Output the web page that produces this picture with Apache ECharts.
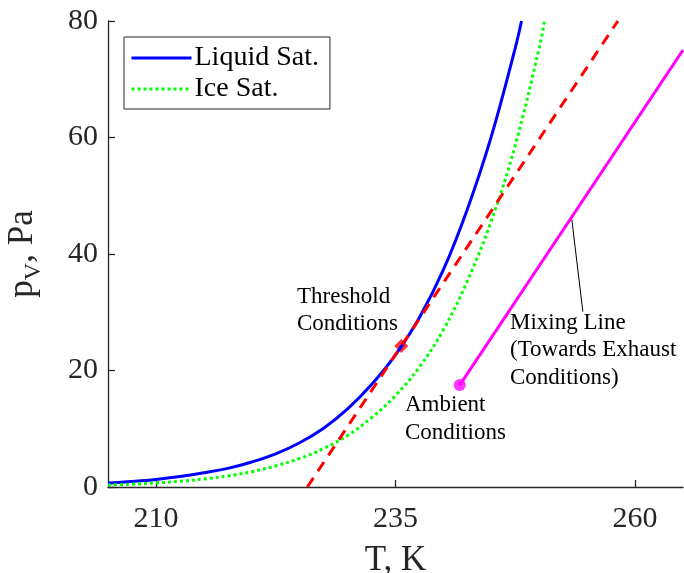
<!DOCTYPE html>
<html>
<head>
<meta charset="utf-8">
<script src="https://cdn.jsdelivr.net/npm/echarts@6/dist/echarts.min.js"></script>
<style>
  html, body { margin: 0; padding: 0; background: #fff; }
  #chart { width: 684px; height: 573px; }
</style>
</head>
<body>
<div id="chart"></div>
<script>
// saturation curves (T in K, p in Pa)
const liquidT = [205, 207.5, 210, 212.5, 215, 217.5, 220, 222.5, 225, 227.5, 230, 232.5, 235, 237.5, 240, 242.5, 245, 247.5, 248.15]
const liquidP = [0.68, 0.95, 1.3, 1.8, 2.43, 3.2, 4.3, 5.7, 7.6, 10.1, 13.4, 17.6, 22.7, 29.1, 37.3, 47.7, 60.2, 75.4, 80]
const iceT = [205, 207.5, 210, 212.5, 215, 217.5, 220, 222.5, 225, 227.5, 230, 232.5, 235, 237.5, 240, 242.5, 245, 247.5, 250, 250.55]
const iceP = [0.34, 0.48, 0.69, 0.99, 1.37, 1.9, 2.62, 3.63, 4.9, 6.6, 8.85, 11.9, 15.7, 20.6, 27.0, 35.4, 45.7, 58.7, 75.4, 80]
// threshold tangent line and point
const thresholdLineT = [225.8, 258.2]
const thresholdLineP = [0, 80]
const thresholdT = 235.6
const thresholdP = 24.2
// mixing line from ambient conditions
const mixingT = [241.7, 265]
const mixingP = [17.5, 75]
const pointerT = [253.4, 254.55]
const pointerP = [45.9, 30.1]
const xTicks = [210, 235, 260]

const zip = (a, b) => a.map((v, i) => [v, b[i]])
const serif = 'Liberation Serif'
const axisColor = '#262626'

const chart = echarts.init(document.getElementById('chart'))
chart.setOption({
  animation: false,
  grid: { left: 108, right: 1, top: 21, bottom: 86, outerBoundsMode: 'none' },
  legend: {
    data: ['Liquid Sat.', 'Ice Sat.'],
    orient: 'vertical',
    left: 124,
    top: 37,
    padding: [7, 11, 6, 6],
    itemGap: 3,
    itemWidth: 60,
    itemHeight: 14,
    itemStyle: { opacity: 0 },
    lineStyle: { width: 3 },
    borderColor: axisColor,
    borderWidth: 1,
    textStyle: { fontFamily: serif, fontSize: 28, color: '#000', padding: [0, 0, 0, -2] }
  },
  xAxis: {
    type: 'value',
    min: 205,
    max: 265,
    name: 'T, K',
    nameLocation: 'middle',
    nameGap: 56,
    nameTextStyle: { fontFamily: serif, fontSize: 35, color: axisColor },
    axisLine: { lineStyle: { color: axisColor, width: 1.3 } },
    axisTick: { show: true, inside: true, length: 7, customValues: xTicks, lineStyle: { color: axisColor, width: 1.3 } },
    axisLabel: { customValues: xTicks, fontFamily: serif, fontSize: 30, color: axisColor, margin: 17 },
    splitLine: { show: false }
  },
  yAxis: {
    type: 'value',
    min: 0,
    max: 80,
    interval: 20,
    name: '{p|p}{sub|V}{p|, Pa}',
    nameLocation: 'middle',
    nameGap: 62,
    nameTextStyle: {
      rich: {
        p: { fontFamily: serif, fontSize: 35, color: axisColor, lineHeight: 46, verticalAlign: 'middle' },
        sub: { fontFamily: serif, fontSize: 24, color: axisColor, lineHeight: 24, verticalAlign: 'bottom' }
      }
    },
    axisLine: { show: true, lineStyle: { color: axisColor, width: 1.3 } },
    axisTick: { show: true, inside: true, length: 7, lineStyle: { color: axisColor, width: 1.3 } },
    axisLabel: { fontFamily: serif, fontSize: 30, color: axisColor, margin: 10, padding: [13, 0, 0, 0] },
    splitLine: { show: false }
  },
  graphic: [
    { type: 'text', left: 297, top: 283, style: { text: 'Threshold\nConditions', font: '23px "Liberation Serif"', fill: '#000', lineHeight: 27 } },
    { type: 'text', left: 510, top: 309, style: { text: 'Mixing Line\n(Towards Exhaust\nConditions)', font: '23px "Liberation Serif"', fill: '#000', lineHeight: 27.5 } },
    { type: 'text', left: 405, top: 391, style: { text: 'Ambient\nConditions', font: '23px "Liberation Serif"', fill: '#000', lineHeight: 28 } }
  ],
  series: [
    {
      name: 'Liquid Sat.',
      type: 'line',
      data: zip(liquidT, liquidP),
      smooth: 0.4,
      symbol: 'none',
      lineStyle: { color: '#0000ff', width: 3 },
      itemStyle: { color: '#0000ff' }
    },
    {
      name: 'Ice Sat.',
      type: 'line',
      data: zip(iceT, iceP),
      smooth: 0.4,
      symbol: 'none',
      lineStyle: { color: '#00ff00', width: 3, type: [3, 3] },
      itemStyle: { color: '#00ff00' }
    },
    {
      name: 'threshold line',
      type: 'line',
      data: zip(thresholdLineT, thresholdLineP),
      symbol: 'none',
      lineStyle: { color: '#ff0000', width: 3, type: [11, 8] }
    },
    {
      name: 'threshold',
      type: 'scatter',
      data: [[thresholdT, thresholdP]],
      symbol: 'diamond',
      symbolSize: 14,
      itemStyle: { color: '#ff0000' }
    },
    {
      name: 'pointer',
      type: 'line',
      data: zip(pointerT, pointerP),
      symbol: 'none',
      lineStyle: { color: '#000', width: 1 }
    },
    {
      name: 'mixing',
      type: 'line',
      data: zip(mixingT, mixingP),
      symbol: 'none',
      lineStyle: { color: '#ff00ff', width: 3 }
    },
    {
      name: 'ambient',
      type: 'scatter',
      data: [[mixingT[0], mixingP[0]]],
      symbol: 'circle',
      symbolSize: 12,
      itemStyle: { color: '#ff00ff' }
    }
  ]
})
</script>
</body>
</html>
